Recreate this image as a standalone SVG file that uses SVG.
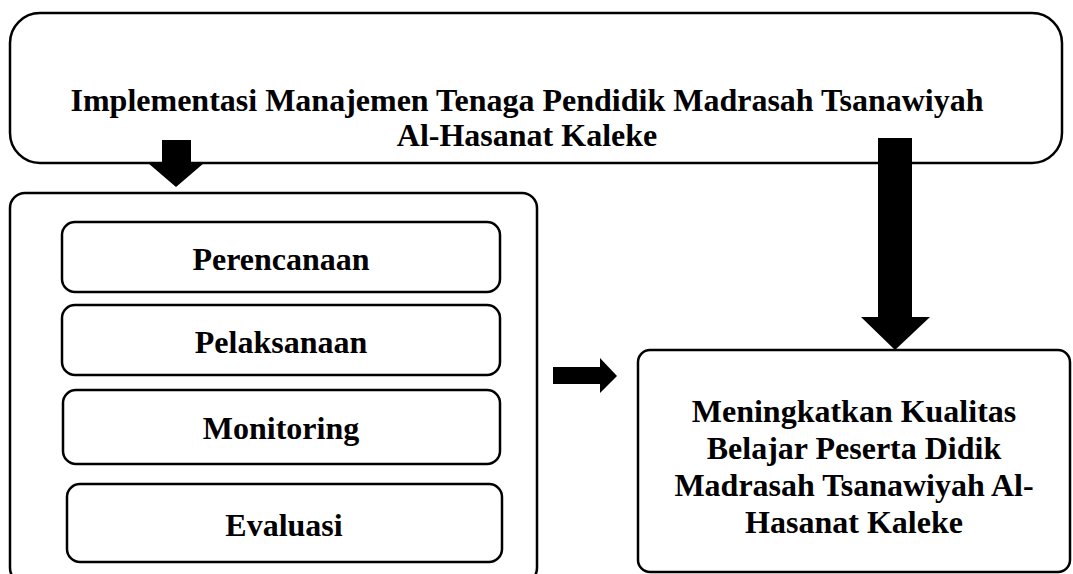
<svg xmlns="http://www.w3.org/2000/svg" width="1073" height="574" viewBox="0 0 1073 574">
  <style>
    .box { fill: #ffffff; stroke: #000000; stroke-width: 2.5; }
    .lbl { font-family: "Liberation Serif", "Times New Roman", serif; font-weight: bold; font-size: 32px; fill: #000000; text-anchor: middle; }
    .arrow { fill: #000000; stroke: none; }
  </style>
  <rect width="1073" height="574" fill="#ffffff"/>
  <g id="node-top">
    <rect class="box" x="10" y="13" width="1052" height="150" rx="30" ry="30"/>
    <text class="lbl" x="527" y="111">Implementasi Manajemen Tenaga Pendidik Madrasah Tsanawiyah</text>
    <text class="lbl" x="527" y="146">Al-Hasanat Kaleke</text>
  </g>
  <g id="node-container">
    <rect class="box" x="10" y="193" width="527" height="390" rx="15" ry="15"/>
  </g>
  <g id="node-perencanaan">
    <rect class="box" x="62" y="222" width="438" height="70" rx="13" ry="13"/>
    <text class="lbl" x="281" y="270">Perencanaan</text>
  </g>
  <g id="node-pelaksanaan">
    <rect class="box" x="62" y="305" width="438" height="70" rx="13" ry="13"/>
    <text class="lbl" x="281" y="353">Pelaksanaan</text>
  </g>
  <g id="node-monitoring">
    <rect class="box" x="63" y="390" width="437" height="74" rx="13" ry="13"/>
    <text class="lbl" x="281" y="439">Monitoring</text>
  </g>
  <g id="node-evaluasi">
    <rect class="box" x="67" y="484" width="435" height="78" rx="13" ry="13"/>
    <text class="lbl" x="284" y="536">Evaluasi</text>
  </g>
  <g id="node-result">
    <rect class="box" x="638" y="350" width="432" height="222" rx="12" ry="12"/>
    <text class="lbl" x="854" y="422">Meningkatkan Kualitas</text>
    <text class="lbl" x="854" y="459">Belajar Peserta Didik</text>
    <text class="lbl" x="854" y="496">Madrasah Tsanawiyah Al-</text>
    <text class="lbl" x="854" y="533">Hasanat Kaleke</text>
  </g>
  <g id="connectors">
    <polygon class="arrow" points="162,140 191,140 191,163 204,163 176,187 148,163 162,163"/>
    <polygon class="arrow" points="878,138 912,138 912,317 930,317 895,350 861,317 878,317"/>
    <polygon class="arrow" points="553,367 600,367 600,358 617,376 600,393 600,384 553,384"/>
  </g>
</svg>
